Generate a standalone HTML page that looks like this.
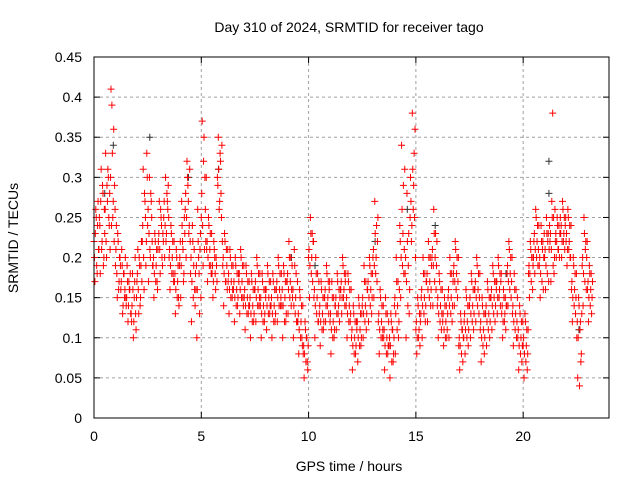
<!DOCTYPE html>
<html><head><meta charset="utf-8"><style>
body{margin:0;background:#fff}
svg{display:block;font-family:"Liberation Sans",sans-serif}
</style></head><body>
<svg id="chart" width="640" height="480" xmlns="http://www.w3.org/2000/svg">
<text x="349" y="32" font-size="14" text-anchor="middle">Day 310 of 2024, SRMTID for receiver tago</text>
<text x="349" y="471" font-size="14" text-anchor="middle">GPS time / hours</text>
<text transform="translate(18,238) rotate(-90)" font-size="14" text-anchor="middle">SRMTID / TECUs</text>
<g id="grid"></g><g id="ticks"></g><g id="pts"></g>
<rect x="94" y="57" width="515" height="361" fill="none" stroke="#000" stroke-width="1"/>
</svg>
<script>
const times=[0,0.25,0.5,0.75,1,1.25,1.5,1.75,2,2.25,2.5,2.75,3,3.25,3.5,3.75,4,4.25,4.5,4.75,5,5.25,5.5,5.75,6,6.25,6.5,6.75,7,7.25,7.5,7.75,8,8.25,8.5,8.75,9,9.25,9.5,9.75,10,10.25,10.5,10.75,11,11.25,11.5,11.75,12,12.25,12.5,12.75,13,13.25,13.5,13.75,14,14.25,14.5,14.75,15,15.25,15.5,15.75,16,16.25,16.5,16.75,17,17.25,17.5,17.75,18,18.25,18.5,18.75,19,19.25,19.5,19.75,20,20.25,20.5,20.75,21,21.25,21.5,21.75,22,22.25,22.5,22.75,23];
const values=[
[0.22,0.17,0.26,0.19,0.24,0.21],[0.25,0.18,0.31,0.22,0.28,0.2],[0.23,0.33,0.2,0.27,0.3,0.24],[0.21,0.41,0.39,0.25,0.36,0.29],
[0.19,0.24,0.15,0.22,0.17,0.2],[0.16,0.21,0.13,0.18,0.15,0.2],[0.14,0.19,0.12,0.17,0.16,0.13],[0.12,0.18,0.1,0.15,0.2,0.11],
[0.17,0.21,0.13,0.19,0.15,0.22],[0.22,0.31,0.16,0.27,0.19,0.33],[0.24,0.17,0.3,0.2,0.27,0.22],[0.19,0.15,0.23,0.17,0.21,0.16],
[0.22,0.27,0.18,0.25,0.2,0.23],[0.25,0.2,0.3,0.23,0.27,0.29],[0.2,0.16,0.24,0.18,0.22,0.17],[0.17,0.13,0.21,0.15,0.19,0.14],
[0.2,0.15,0.27,0.22,0.17,0.25],[0.26,0.2,0.32,0.29,0.23,0.31],[0.18,0.12,0.24,0.15,0.21,0.14],[0.16,0.1,0.26,0.2,0.13,0.23],
[0.25,0.37,0.19,0.35,0.3,0.22],[0.21,0.17,0.25,0.19,0.23,0.18],[0.18,0.15,0.22,0.2,0.16,0.19],[0.3,0.35,0.26,0.33,0.28,0.34],
[0.19,0.14,0.23,0.17,0.21,0.16],[0.17,0.13,0.21,0.15,0.19,0.16],[0.16,0.12,0.2,0.14,0.18,0.15],[0.17,0.13,0.21,0.15,0.19,0.14],
[0.15,0.11,0.19,0.13,0.17,0.14],[0.14,0.1,0.18,0.12,0.16,0.13],[0.16,0.12,0.2,0.14,0.18,0.15],[0.14,0.1,0.18,0.12,0.16,0.13],
[0.15,0.11,0.19,0.13,0.17,0.14],[0.14,0.1,0.18,0.12,0.16,0.13],[0.16,0.12,0.2,0.14,0.18,0.15],[0.14,0.1,0.19,0.12,0.17,0.13],
[0.17,0.13,0.22,0.15,0.2,0.16],[0.15,0.1,0.21,0.13,0.18,0.12],[0.12,0.08,0.16,0.1,0.14,0.09],[0.08,0.05,0.12,0.07,0.1,0.06],
[0.2,0.15,0.25,0.18,0.23,0.22],[0.15,0.1,0.2,0.13,0.18,0.12],[0.13,0.09,0.17,0.11,0.15,0.12],[0.15,0.12,0.19,0.14,0.17,0.16],
[0.12,0.08,0.17,0.1,0.15,0.11],[0.14,0.11,0.18,0.13,0.16,0.15],[0.16,0.13,0.2,0.15,0.18,0.17],[0.14,0.1,0.18,0.12,0.16,0.13],
[0.1,0.06,0.14,0.08,0.12,0.09],[0.11,0.07,0.15,0.09,0.13,0.1],[0.14,0.1,0.19,0.12,0.17,0.13],[0.16,0.12,0.2,0.14,0.18,0.15],
[0.2,0.15,0.27,0.18,0.24,0.22],[0.12,0.08,0.16,0.1,0.14,0.11],[0.1,0.06,0.15,0.08,0.13,0.09],[0.09,0.05,0.13,0.07,0.11,0.08],
[0.14,0.08,0.2,0.11,0.17,0.12],[0.24,0.15,0.34,0.19,0.29,0.21],[0.18,0.1,0.28,0.14,0.23,0.16],[0.3,0.22,0.38,0.26,0.33,0.36],
[0.11,0.08,0.15,0.1,0.13,0.12],[0.15,0.1,0.2,0.13,0.18,0.14],[0.17,0.12,0.22,0.15,0.2,0.16],[0.2,0.14,0.26,0.17,0.23,0.19],
[0.14,0.1,0.18,0.12,0.16,0.13],[0.12,0.09,0.15,0.1,0.14,0.11],[0.15,0.1,0.2,0.13,0.18,0.14],[0.18,0.14,0.22,0.16,0.2,0.17],
[0.09,0.06,0.13,0.08,0.11,0.1],[0.12,0.08,0.16,0.1,0.14,0.11],[0.14,0.1,0.18,0.12,0.16,0.13],[0.16,0.12,0.2,0.14,0.18,0.15],
[0.11,0.07,0.15,0.09,0.13,0.1],[0.13,0.09,0.17,0.11,0.15,0.12],[0.15,0.11,0.19,0.13,0.17,0.14],[0.16,0.13,0.2,0.15,0.18,0.17],
[0.13,0.1,0.16,0.12,0.15,0.14],[0.18,0.14,0.22,0.16,0.2,0.17],[0.13,0.09,0.18,0.11,0.16,0.12],[0.1,0.06,0.14,0.08,0.12,0.09],
[0.09,0.05,0.13,0.07,0.11,0.08],[0.18,0.15,0.22,0.17,0.2,0.19],[0.22,0.18,0.26,0.2,0.24,0.21],[0.19,0.15,0.24,0.17,0.22,0.2],
[0.2,0.16,0.25,0.18,0.23,0.21],[0.22,0.17,0.27,0.38,0.25,0.2],[0.22,0.2,0.25,0.21,0.24,0.23],[0.23,0.2,0.27,0.22,0.25,0.24],
[0.22,0.19,0.26,0.21,0.24,0.2],[0.16,0.12,0.2,0.14,0.18,0.15],[0.1,0.05,0.15,0.04,0.12,0.08],[0.19,0.14,0.25,0.17,0.22,0.2],
[0.16,0.12,0.19,0.14,0.18,0.15]];
const values2=[
[0.2,0.23,0.25,0.18,0.27,0.21],[0.24,0.27,0.21,0.29,0.19,0.26],[0.26,0.22,0.29,0.31,0.25,0.28],[0.3,0.24,0.33,0.27,0.22,0.26],
[0.21,0.18,0.23,0.16,0.2,0.19],[0.17,0.19,0.14,0.18,0.16,0.15],[0.15,0.17,0.14,0.16,0.18,0.13],[0.14,0.16,0.12,0.17,0.13,0.15],
[0.18,0.16,0.2,0.14,0.19,0.17],[0.24,0.2,0.28,0.25,0.22,0.3],[0.26,0.23,0.21,0.28,0.25,0.19],[0.2,0.18,0.22,0.19,0.17,0.21],
[0.23,0.21,0.26,0.24,0.19,0.22],[0.27,0.24,0.22,0.28,0.26,0.25],[0.21,0.19,0.23,0.2,0.18,0.22],[0.18,0.16,0.2,0.17,0.15,0.19],
[0.22,0.19,0.24,0.21,0.18,0.23],[0.28,0.25,0.3,0.27,0.24,0.22],[0.2,0.17,0.22,0.19,0.16,0.18],[0.19,0.16,0.22,0.18,0.21,0.15],
[0.28,0.24,0.32,0.21,0.26,0.3],[0.22,0.2,0.24,0.21,0.19,0.23],[0.19,0.17,0.21,0.18,0.2,0.17],[0.29,0.31,0.27,0.32,0.25,0.22],
[0.2,0.18,0.22,0.17,0.19,0.21],[0.18,0.16,0.2,0.17,0.15,0.19],[0.17,0.15,0.19,0.16,0.14,0.18],[0.18,0.16,0.2,0.17,0.15,0.19],
[0.16,0.14,0.18,0.15,0.13,0.17],[0.15,0.13,0.17,0.14,0.12,0.16],[0.17,0.15,0.19,0.16,0.14,0.18],[0.15,0.13,0.17,0.14,0.12,0.16],
[0.16,0.14,0.18,0.15,0.13,0.17],[0.15,0.13,0.17,0.14,0.12,0.16],[0.17,0.15,0.19,0.16,0.14,0.18],[0.16,0.14,0.18,0.15,0.12,0.17],
[0.18,0.16,0.2,0.17,0.14,0.19],[0.16,0.14,0.19,0.15,0.12,0.17],[0.13,0.11,0.15,0.12,0.1,0.14],[0.09,0.08,0.11,0.1,0.07,0.09],
[0.21,0.19,0.23,0.2,0.17,0.22],[0.16,0.14,0.18,0.15,0.12,0.17],[0.14,0.12,0.16,0.13,0.11,0.15],[0.16,0.14,0.18,0.15,0.13,0.17],
[0.13,0.11,0.15,0.12,0.1,0.14],[0.15,0.13,0.17,0.14,0.12,0.16],[0.17,0.15,0.19,0.16,0.14,0.18],[0.15,0.13,0.17,0.14,0.12,0.16],
[0.11,0.09,0.13,0.1,0.08,0.12],[0.12,0.1,0.14,0.11,0.09,0.13],[0.15,0.13,0.17,0.14,0.11,0.16],[0.17,0.15,0.19,0.16,0.13,0.18],
[0.21,0.19,0.23,0.2,0.17,0.25],[0.13,0.11,0.15,0.12,0.1,0.14],[0.11,0.09,0.13,0.1,0.08,0.12],[0.1,0.09,0.12,0.11,0.07,0.1],
[0.15,0.13,0.17,0.14,0.1,0.16],[0.22,0.2,0.26,0.23,0.18,0.31],[0.2,0.17,0.22,0.19,0.13,0.25],[0.27,0.24,0.31,0.29,0.25,0.2],
[0.12,0.1,0.14,0.11,0.09,0.13],[0.16,0.14,0.18,0.15,0.12,0.17],[0.18,0.16,0.2,0.17,0.14,0.19],[0.21,0.19,0.23,0.2,0.16,0.22],
[0.15,0.13,0.17,0.14,0.11,0.16],[0.13,0.11,0.14,0.12,0.1,0.13],[0.16,0.14,0.18,0.15,0.12,0.17],[0.19,0.17,0.21,0.18,0.15,0.2],
[0.1,0.09,0.12,0.11,0.07,0.1],[0.13,0.11,0.15,0.12,0.09,0.14],[0.15,0.13,0.17,0.14,0.11,0.16],[0.17,0.15,0.19,0.16,0.13,0.18],
[0.12,0.1,0.14,0.11,0.08,0.13],[0.14,0.12,0.16,0.13,0.1,0.15],[0.16,0.14,0.18,0.15,0.12,0.17],[0.17,0.15,0.19,0.16,0.14,0.18],
[0.14,0.12,0.15,0.13,0.11,0.14],[0.19,0.17,0.21,0.18,0.15,0.2],[0.14,0.12,0.16,0.13,0.1,0.15],[0.11,0.09,0.13,0.1,0.07,0.12],
[0.1,0.08,0.12,0.09,0.06,0.11],[0.19,0.18,0.21,0.2,0.16,0.2],[0.23,0.21,0.25,0.22,0.19,0.24],[0.2,0.18,0.22,0.21,0.16,0.23],
[0.21,0.19,0.23,0.22,0.17,0.24],[0.23,0.21,0.25,0.19,0.18,0.26],[0.23,0.22,0.24,0.21,0.2,0.25],[0.24,0.22,0.26,0.23,0.21,0.25],
[0.23,0.21,0.25,0.22,0.2,0.24],[0.17,0.15,0.19,0.16,0.13,0.18],[0.12,0.1,0.14,0.11,0.07,0.13],[0.2,0.18,0.23,0.21,0.16,0.22],
[0.17,0.15,0.18,0.16,0.13,0.17]];
const greyTimes=[0.5,0.9,2.6,4.4,5.8,9.2,10.3,13.1,14.6,15.9,19.2,21.2,21.2,22.6];
const greyValues=[0.28,0.34,0.35,0.3,0.31,0.2,0.19,0.22,0.26,0.24,0.18,0.32,0.28,0.11];
const xTicks=[0,5,10,15,20];
const yTicks=[0,0.05,0.1,0.15,0.2,0.25,0.3,0.35,0.4,0.45];
const yTickLabels=["0","0.05","0.1","0.15","0.2","0.25","0.3","0.35","0.4","0.45"];

const NS="http://www.w3.org/2000/svg";
const X=t=>94+t*(515/24), Y=v=>418-v*(361/0.45);
function mk(tag,attrs,parent){const e=document.createElementNS(NS,tag);for(const k in attrs)e.setAttribute(k,attrs[k]);parent.appendChild(e);return e;}
const grid=document.getElementById('grid'),ticks=document.getElementById('ticks'),pts=document.getElementById('pts');
xTicks.forEach(t=>{const x=X(t);
 if(t>0){const g=mk('line',{x1:x,x2:x,y1:57,y2:418,stroke:'#a0a0a0','stroke-dasharray':'3,3'},grid);
 
 }
 mk('line',{x1:x,x2:x,y1:418,y2:412,stroke:'#000'},ticks);mk('line',{x1:x,x2:x,y1:57,y2:63,stroke:'#000'},ticks);
 const l=mk('text',{x:x,y:441,'font-size':14,'text-anchor':'middle'},ticks);l.textContent=t;
 
 });
yTicks.forEach((v,i)=>{const y=Y(v);
 if(i>0&&i<yTicks.length-1){const g=mk('line',{x1:94,x2:609,y1:y,y2:y,stroke:'#a0a0a0','stroke-dasharray':'3,3'},grid);
 
 }
 mk('line',{x1:94,x2:100,y1:y,y2:y,stroke:'#000'},ticks);mk('line',{x1:603,x2:609,y1:y,y2:y,stroke:'#000'},ticks);
 const l=mk('text',{x:82,y:y+5,'font-size':14,'text-anchor':'end'},ticks);l.textContent=yTickLabels[i];
 
 });
function plus(x,y){return 'M'+(x-3.5)+' '+y+'h7M'+x+' '+(y-3.5)+'v7';}
let dGrey='';greyTimes.forEach((t,i)=>{dGrey+=plus(X(t),Y(greyValues[i]));});
const pg=mk('path',{d:dGrey,stroke:'#333',fill:'none','stroke-width':1},pts);


let d='';
times.forEach((t,i)=>{values[i].forEach((v,k)=>{d+=plus(X(t+k*0.042),Y(v));});});
times.forEach((t,i)=>{values2[i].forEach((v,k)=>{d+=plus(X(t+0.021+k*0.042),Y(v));});});
const pr=mk('path',{d:d,stroke:'#ff0000',fill:'none','stroke-width':1},pts);


</script>
</body></html>
